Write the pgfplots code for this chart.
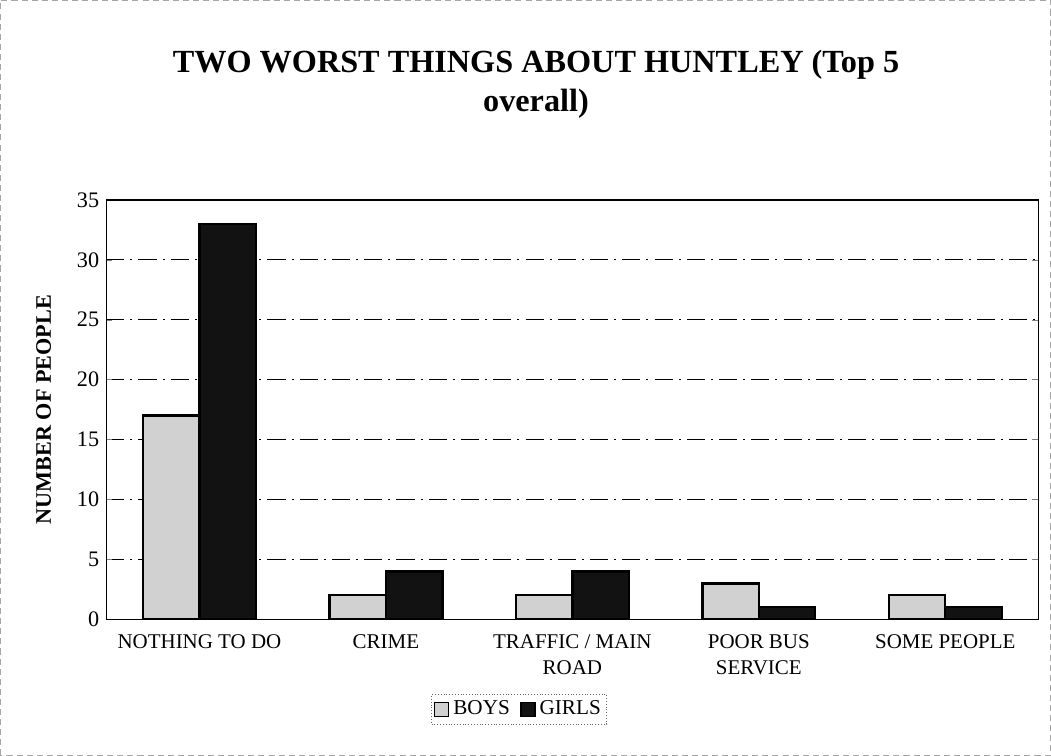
\documentclass[border=0pt]{standalone}
\usepackage{fontspec}
\setmainfont{Liberation Serif}
\usepackage{pgfplots}
\pgfplotsset{compat=1.18}
\begin{document}
\begin{tikzpicture}[x=1pt,y=1pt]
% outer chart frame (image is 1051x758 px, 0.5pt per px)
\draw[black!35, densely dashed, line width=0.4pt] (-51pt,-69pt) rectangle (470pt,305.5pt);
\begin{axis}[
at={(1.5pt,-1.5pt)}, anchor=south west,
scale only axis,
width=462.5pt,
height=208pt,
ybar=0pt,
bar width=28pt,
xmin=-0.5, xmax=4.5,
ymin=0, ymax=35,
ytick={0,5,...,35},
xtick={0,1,2,3,4},
xticklabels={NOTHING TO DO, CRIME, TRAFFIC / MAIN\\ROAD, POOR BUS\\SERVICE, SOME PEOPLE},
x tick label style={font=\fontsize{10.4}{13}\selectfont, align=center, yshift=-1pt},
y tick label style={font=\fontsize{11}{13}\selectfont},
/pgf/number format/assume math mode=true,
major tick length=3pt,
xtick style={draw=none},
ymajorgrids=true,
grid style={black, thin, dash pattern=on 9pt off 3pt on 1pt off 3pt},
axis line style={black, line width=0.6pt},
ylabel={\textbf{NUMBER OF PEOPLE}},
ylabel style={at={(rel axis cs:-0.067,0.5)}, anchor=center, font=\fontsize{11}{13}\selectfont},
legend columns=2,
legend style={at={(rel axis cs:0.443,-0.215)}, anchor=center, draw=black!60, densely dotted,
  font=\fontsize{10.5}{13}\selectfont, inner sep=1pt,
  /tikz/every even column/.append style={column sep=3pt}},
legend image code/.code={\draw[#1, solid, line width=0.8pt] (0pt,-3.5pt) rectangle (7pt,3.5pt);},
clip=false,
]
\addplot[draw=black, line width=1.2pt, fill=black!18] coordinates {
(0,17) (1,2) (2,2) (3,3) (4,2)
};
\addplot[draw=black, line width=1.2pt, fill=black!93] coordinates {
(0,33) (1,4) (2,4) (3,1) (4,1)
};
\legend{BOYS, GIRLS}
\node[align=center, font=\fontsize{16}{19}\selectfont\bfseries] at (rel axis cs:0.461,1.276)
  {TWO WORST THINGS ABOUT HUNTLEY (Top 5\\overall)};
\end{axis}
\end{tikzpicture}
\end{document}
